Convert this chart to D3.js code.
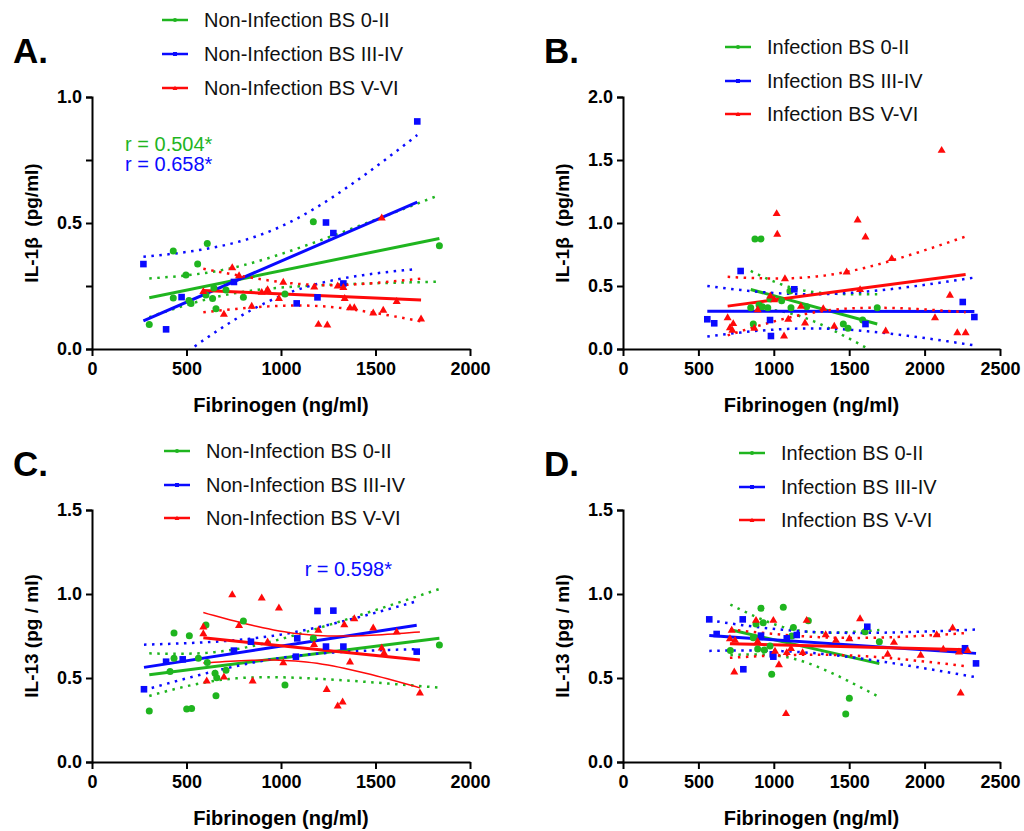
<!DOCTYPE html>
<html>
<head>
<meta charset="utf-8">
<script src="https://cdn.jsdelivr.net/npm/d3@7"></script>
<style>
  body { margin: 0; background: #fff; }
  svg { display: block; font-family: Arial, "Liberation Sans", sans-serif; }
</style>
</head>
<body>
<svg id="chart" width="1024" height="831"></svg>
<script>
// [fibrinogen (ng/ml), value]

// A. IL-1b, non-infection
var aGreen = [[303,0.097],[430,0.389],[430,0.202],[497,0.294],[513,0.192],[524,0.181],[559,0.337],[603,0.214],
  [610,0.419],[638,0.200],[645,0.242],[656,0.160],[709,0.234],[801,0.205],[1021,0.218],[1171,0.505],[1838,0.410]];
var aBlue = [[272,0.337],[392,0.078],[474,0.206],[751,0.266],[1083,0.181],[1193,0.205],[1238,0.502],[1277,0.460],
  [1330,0.260],[1721,0.903]];
var aRed = [[589,0.229],[698,0.139],[742,0.324],[778,0.292],[845,0.171],[898,0.226],[929,0.237],[989,0.202],
  [1012,0.266],[1176,0.247],[1198,0.099],[1245,0.097],[1300,0.251],[1330,0.245],[1337,0.202],[1365,0.165],
  [1388,0.165],[1488,0.144],[1533,0.521],[1541,0.155],[1612,0.190],[1741,0.120]];

// B. IL-1b, infection
var bGreen = [[847,0.328],[864,0.198],[875,0.873],[902,0.349],[915,0.873],[924,0.336],[960,0.328],[975,0.397],
  [1052,0.383],[1107,0.460],[1114,0.328],[1218,0.336],[1461,0.198],[1492,0.164],[1589,0.230],[1686,0.328]];
var bBlue = [[559,0.236],[605,0.204],[780,0.619],[975,0.230],[981,0.103],[1136,0.474],[1608,0.198],[2253,0.373],
  [2330,0.254]];
var bRed = [[694,0.251],[709,0.172],[725,0.151],[731,0.204],[871,0.167],[893,0.315],[977,0.423],[1003,0.394],
  [1019,1.077],[1023,0.913],[1068,0.106],[1074,0.561],[1096,0.238],[1180,0.341],[1207,0.209],[1328,0.323],
  [1401,0.183],[1483,0.614],[1556,1.026],[1572,0.474],[1608,0.891],[1742,0.146],[1782,0.720],[2069,0.251],
  [2113,1.579],[2168,0.429],[2217,0.132],[2272,0.132]];

// C. IL-13, non-infection
var cGreen = [[303,0.304],[413,0.538],[434,0.768],[434,0.617],[501,0.315],[515,0.752],[527,0.319],[563,0.617],
  [603,0.815],[610,0.593],[651,0.528],[656,0.395],[660,0.502],[709,0.546],[801,0.839],[1021,0.458],[1171,0.736],
  [1838,0.696]];
var cBlue = [[275,0.433],[392,0.597],[480,0.611],[751,0.663],[841,0.716],[1079,0.627],[1086,0.736],[1193,0.899],
  [1238,0.687],[1277,0.901],[1330,0.687],[1718,0.657]];
var cRed = [[589,0.806],[589,0.766],[607,0.484],[698,0.508],[742,0.998],[778,0.815],[850,0.484],[898,0.978],
  [929,0.716],[989,0.919],[1012,0.593],[1175,0.702],[1198,0.786],[1242,0.433],[1300,0.335],[1326,0.359],
  [1335,0.819],[1365,0.597],[1388,0.855],[1488,0.800],[1533,0.681],[1545,0.651],[1612,0.776],[1735,0.413]];

// D. IL-13, infection
var dGreen = [[712,0.663],[864,0.740],[882,0.821],[893,0.673],[915,0.915],[930,0.829],[937,0.667],[975,0.690],
  [986,0.522],[1063,0.921],[1119,0.750],[1130,0.800],[1229,0.841],[1477,0.286],[1501,0.379],[1605,0.776],
  [1700,0.716]];
var dBlue = [[572,0.849],[621,0.762],[794,0.849],[798,0.552],[915,0.752],[993,0.641],[997,0.627],[1086,0.736],
  [1152,0.756],[1620,0.805],[2268,0.677],[2341,0.587]];
var dRed = [[709,0.736],[721,0.786],[738,0.538],[743,0.726],[882,0.845],[893,0.720],[997,0.845],[1008,0.661],
  [1034,0.581],[1081,0.290],[1086,0.653],[1114,0.677],[1191,0.653],[1218,0.845],[1344,0.760],[1412,0.726],
  [1501,0.736],[1572,0.855],[1755,0.643],[1797,0.714],[1974,0.637],[2080,0.760],[2124,0.673],[2186,0.800],
  [2228,0.657],[2239,0.413],[2286,0.665]];

var nonInfNames = ["Non-Infection BS 0-II", "Non-Infection BS III-IV", "Non-Infection BS V-VI"];
var infNames = ["Infection BS 0-II", "Infection BS III-IV", "Infection BS V-VI"];
var colors = ["#1fb51f", "#0a0aff", "#ff0a0a"];
var shapes = ["circle", "square", "triangle"];

var svg = d3.select("#chart");
svg.append("rect").attr("width", 1024).attr("height", 831).attr("fill", "#fff");

// two-sided 95% t value (Cornish-Fisher expansion)
function tCrit(df) {
    var z = 1.959964;
    return z + (z*z*z + z) / (4*df) + (5*Math.pow(z,5) + 16*z*z*z + 3*z) / (96*df*df)
        + (3*Math.pow(z,7) + 19*Math.pow(z,5) + 17*z*z*z - 15*z) / (384*df*df*df);
}

function fit(pts) {
    var n = pts.length;
    var mx = d3.mean(pts, d => d[0]), my = d3.mean(pts, d => d[1]);
    var sxx = d3.sum(pts, d => (d[0]-mx)*(d[0]-mx));
    var sxy = d3.sum(pts, d => (d[0]-mx)*(d[1]-my));
    var b = sxy / sxx, a = my - b*mx;
    var sse = d3.sum(pts, d => Math.pow(d[1] - (a + b*d[0]), 2));
    var s = Math.sqrt(sse / (n-2));
    var t = tCrit(n-2);
    return {
        a: a, b: b,
        lo: d3.min(pts, d => d[0]), hi: d3.max(pts, d => d[0]),
        half: function(x) { return t * s * Math.sqrt(1/n + (x-mx)*(x-mx)/sxx); }
    };
}

function drawMarker(g, shape, color, cx, cy, big) {
    var k = big ? 1 : 0.6;
    if (shape == "circle") {
        g.append("circle").attr("cx", cx).attr("cy", cy).attr("r", 3.5*k).attr("fill", color);
    } else if (shape == "square") {
        g.append("rect").attr("x", cx-3.3*k).attr("y", cy-3.3*k).attr("width", 6.6*k).attr("height", 6.6*k).attr("fill", color);
    } else {
        g.append("path").attr("d", d3.symbol().type(d3.symbolTriangle).size(28*k*k)())
            .attr("transform", "translate(" + cx + "," + (cy+0.5) + ")").attr("fill", color);
    }
}

function drawPanel(p, idx) {
    var x = d3.scaleLinear().domain([0, p.xMax]).range([p.left, p.left + p.w]);
    var y = d3.scaleLinear().domain([0, p.yMax]).range([p.top + p.h, p.top]);

    var clipId = "clip" + idx;
    svg.append("clipPath").attr("id", clipId).append("rect")
        .attr("x", p.left).attr("y", p.top - 2).attr("width", p.w + 2).attr("height", p.h + 2);

    // axes
    var yAxis = d3.axisLeft(y).tickValues(d3.range(0, p.yMax + 1e-9, p.yStep))
        .tickSize(6).tickPadding(4)
        .tickFormat(d => (Math.abs(d / p.yLabelStep - Math.round(d / p.yLabelStep)) < 1e-6) ? d3.format(".1f")(d) : "");
    var gy = svg.append("g").attr("transform", "translate(" + p.left + ",0)").call(yAxis);

    var xAxis = d3.axisBottom(x).tickValues(d3.range(0, p.xMax + 1, 500))
        .tickSize(7).tickPadding(6).tickSizeOuter(0).tickFormat(d3.format("d"));
    var gx = svg.append("g").attr("transform", "translate(0," + (p.top + p.h) + ")").call(xAxis);

    [gx, gy].forEach(function(g) {
        g.selectAll("path, line").attr("stroke", "#000").attr("stroke-width", 2);
        g.selectAll("text").attr("fill", "#000").style("font-size", "18px").style("font-weight", "bold");
    });

    // axis titles
    svg.append("text").attr("x", p.left + p.w / 2).attr("y", p.top + p.h + 63)
        .attr("text-anchor", "middle").style("font-size", "20px").style("font-weight", "bold")
        .text("Fibrinogen (ng/ml)");
    svg.append("text").attr("transform", "translate(" + (p.left - 54) + "," + (p.top + p.h / 2) + ") rotate(-90)")
        .attr("text-anchor", "middle").style("font-size", "19px").style("font-weight", "bold")
        .style("white-space", "pre").text(p.yLabel);

    // panel letter
    svg.append("text").attr("x", p.left - 79).attr("y", p.top - 34)
        .style("font-size", "35px").style("font-weight", "bold").text(p.letter);

    // legend
    p.names.forEach(function(name, i) {
        var ly = p.legendY[i];
        svg.append("line").attr("x1", p.legendX).attr("x2", p.legendX + 26).attr("y1", ly).attr("y2", ly)
            .attr("stroke", colors[i]).attr("stroke-width", 2.5);
        drawMarker(svg, shapes[i], colors[i], p.legendX + 13, ly, false);
        svg.append("text").attr("x", p.legendX + 42).attr("y", ly + 7)
            .style("font-size", "20px").attr("fill", "#111").text(name);
    });

    // fits and confidence bands
    var plot = svg.append("g").attr("clip-path", "url(#" + clipId + ")");
    p.series.forEach(function(pts, i) {
        var f = fit(pts);
        var xs = d3.range(0, 41).map(k => f.lo + (f.hi - f.lo) * k / 40);
        var solidBand = p.solidBand === i;
        [-1, 1].forEach(function(sgn) {
            var band = d3.line().x(d => x(d)).y(d => y(f.a + f.b*d + sgn * f.half(d)));
            plot.append("path").attr("d", band(xs)).attr("fill", "none").attr("stroke", colors[i])
                .attr("stroke-width", solidBand ? 1.5 : 2.5)
                .attr("stroke-dasharray", solidBand ? null : "2.5 5.5");
        });
        plot.append("line").attr("x1", x(f.lo)).attr("x2", x(f.hi))
            .attr("y1", y(f.a + f.b*f.lo)).attr("y2", y(f.a + f.b*f.hi))
            .attr("stroke", colors[i]).attr("stroke-width", 3);
    });

    // points
    p.series.forEach(function(pts, i) {
        var g = svg.append("g");
        pts.forEach(d => drawMarker(g, shapes[i], colors[i], x(d[0]), y(d[1]), true));
    });

    // correlation notes
    (p.notes || []).forEach(function(n) {
        svg.append("text").attr("x", x(n.x)).attr("y", y(n.y)).style("font-size", "20px")
            .attr("fill", colors[n.c]).text(n.text);
    });
}

var panels = [
    {letter: "A.", left: 92, top: 97, w: 378, h: 252, xMax: 2000, yMax: 1.0, yStep: 0.25, yLabelStep: 0.5,
     yLabel: "IL-1\u03b2  (pg/ml)", names: nonInfNames, legendX: 162, legendY: [20, 54, 88],
     series: [aGreen, aBlue, aRed],
     notes: [{x: 175, y: 0.785, c: 0, text: "r = 0.504*"}, {x: 175, y: 0.705, c: 1, text: "r = 0.658*"}]},
    {letter: "B.", left: 623, top: 97, w: 377, h: 252, xMax: 2500, yMax: 2.0, yStep: 0.5, yLabelStep: 0.5,
     yLabel: "IL-1\u03b2  (pg/ml)", names: infNames, legendX: 725, legendY: [47, 81, 114],
     series: [bGreen, bBlue, bRed]},
    {letter: "C.", left: 92, top: 510, w: 378, h: 252, xMax: 2000, yMax: 1.5, yStep: 0.5, yLabelStep: 0.5,
     yLabel: "IL-13 (pg / ml)", names: nonInfNames, legendX: 164, legendY: [451, 485, 518],
     series: [cGreen, cBlue, cRed], solidBand: 2,
     notes: [{x: 1125, y: 1.105, c: 1, text: "r = 0.598*"}]},
    {letter: "D.", left: 623, top: 510, w: 377, h: 252, xMax: 2500, yMax: 1.5, yStep: 0.5, yLabelStep: 0.5,
     yLabel: "IL-13 (pg / ml)", names: infNames, legendX: 739, legendY: [453, 487, 520],
     series: [dGreen, dBlue, dRed]}
];

panels.forEach(drawPanel);
</script>
</body>
</html>
